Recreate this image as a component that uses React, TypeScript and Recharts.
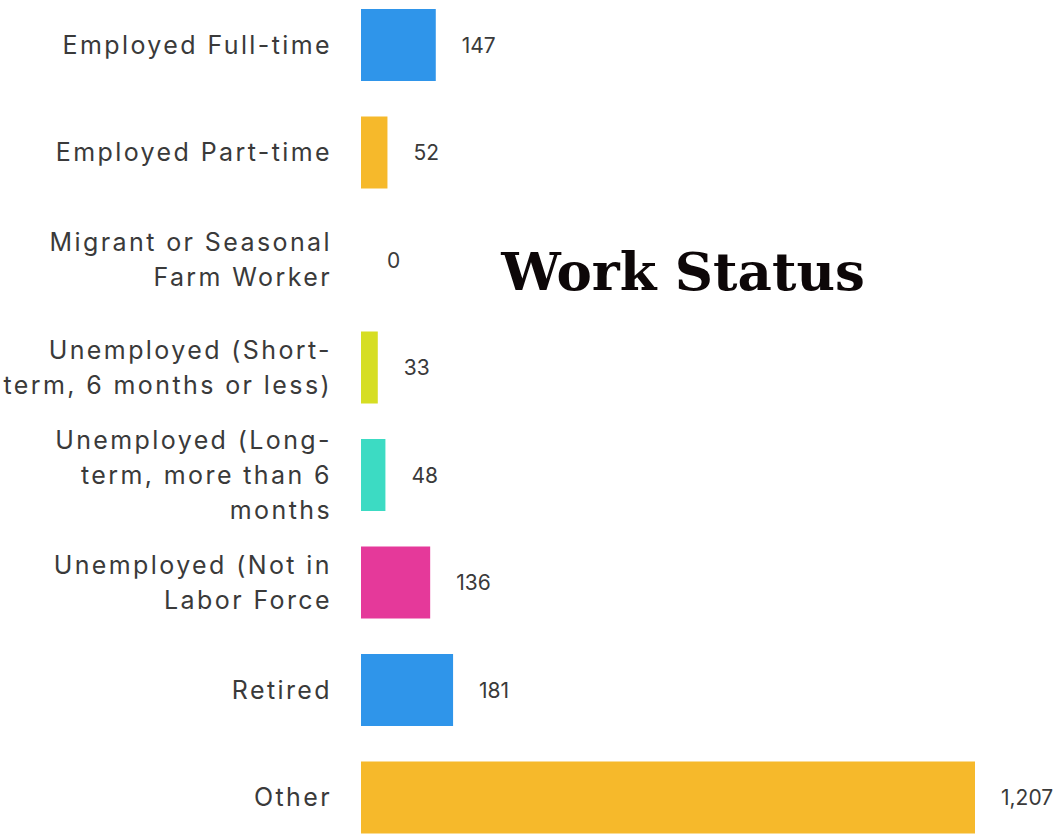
import { BarChart, Bar, XAxis, YAxis, Cell, LabelList } from 'recharts';

const categories = [
  'Employed Full-time',
  'Employed Part-time',
  'Migrant or Seasonal Farm Worker',
  'Unemployed (Short-term, 6 months or less)',
  'Unemployed (Long-term, more than 6 months',
  'Unemployed (Not in Labor Force',
  'Retired',
  'Other',
];

// how each category label is broken over lines
const labelLines = [
  ['Employed Full-time'],
  ['Employed Part-time'],
  ['Migrant or Seasonal', 'Farm Worker'],
  ['Unemployed (Short-', 'term, 6 months or less)'],
  ['Unemployed (Long-', 'term, more than 6', 'months'],
  ['Unemployed (Not in', 'Labor Force'],
  ['Retired'],
  ['Other'],
];

const counts = [147, 52, 0, 33, 48, 136, 181, 1207];

const barColors = ['#2f95ea', '#f6b92b', '#f6b92b', '#d6de23', '#3cdbc3', '#e5399a', '#2f95ea', '#f6b92b'];

const data = categories.map((name, i) => ({ name, count: counts[i] }));

const FONT = 'Inter, "Open Sans", sans-serif';

function CategoryTick({ x, y, payload }: any) {
  const idx = categories.indexOf(payload.value);
  const lines = labelLines[idx] || [payload.value];
  const lh = 35;
  const start = -((lines.length - 1) / 2) * lh;
  return (
    <text x={x + 2} y={y} textAnchor="end" fill="#3a3a3a" fontSize={25} letterSpacing={2.4} fontFamily={FONT}>
      {lines.map((l, i) => (
        <tspan key={i} x={x + 2} y={y + start + i * lh} dy="0.36em">
          {l}
        </tspan>
      ))}
    </text>
  );
}

// value label to the right of each bar (the zero bar gets one too)
function ValueLabel({ x, y, height, value }: any) {
  const w = Number(value) === 0 ? 0 : arguments[0].width;
  return (
    <text
      x={x + w + 26}
      y={y + height / 2}
      dy="0.36em"
      fill="#3a3a3a"
      fontSize={21}
      fontFamily={FONT}
    >
      {Number(value).toLocaleString('en-US')}
    </text>
  );
}

export default function App() {
  return (
    <div style={{ position: 'absolute', top: 0, left: 0, width: 1062, height: 834, overflow: 'hidden', background: '#fff' }}>
      <div style={{ position: 'absolute', top: -9, left: 0 }}>
        <BarChart
          width={1062}
          height={860}
          data={data}
          layout="vertical"
          margin={{ top: 0, right: 87, bottom: 0, left: 0 }}
        >
          <XAxis type="number" hide domain={[0, 1207]} />
          <YAxis
            type="category"
            dataKey="name"
            width={361}
            tickLine={false}
            axisLine={false}
            tickSize={0}
            tickMargin={31}
            interval={0}
            tick={<CategoryTick />}
          />
          <Bar dataKey="count" barSize={72} minPointSize={1} isAnimationActive={false}>
            {data.map((d, i) => (
              <Cell key={d.name} fill={barColors[i]} fillOpacity={d.count === 0 ? 0 : 1} />
            ))}
            <LabelList dataKey="count" content={<ValueLabel />} />
          </Bar>
        </BarChart>
      </div>
      <div
        style={{
          position: 'absolute',
          left: 483,
          top: 236,
          width: 400,
          textAlign: 'center',
          fontFamily: '"DejaVu Serif", serif',
          fontWeight: 'bold',
          fontSize: 53,
          lineHeight: '70px',
          color: '#0d0708',
        }}
      >
        Work Status
      </div>
    </div>
  );
}
